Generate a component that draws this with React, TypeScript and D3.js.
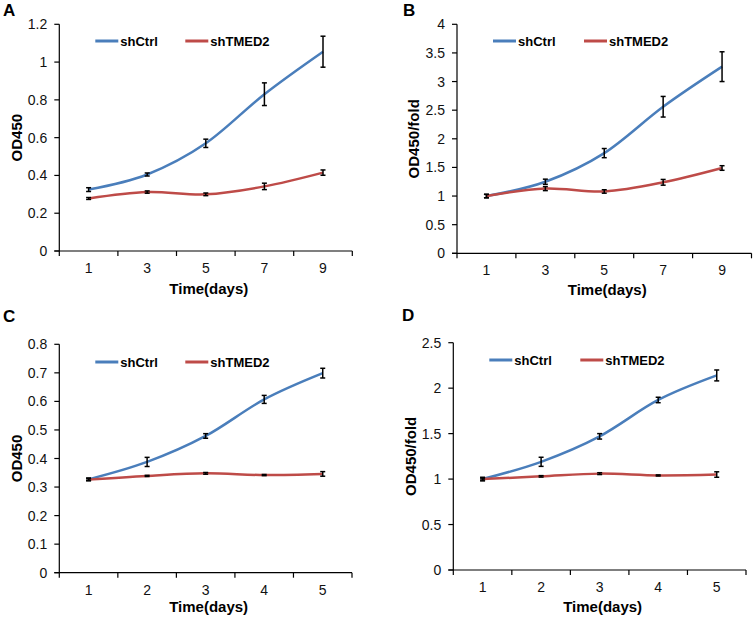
import React from "react";
import * as d3 from "d3";

// ---------- data ----------
const daysAB = ["1", "3", "5", "7", "9"];
const daysCD = ["1", "2", "3", "4", "5"];
const seriesNames = ["shCtrl", "shTMED2"];

const aCtrl = [0.325, 0.405, 0.57, 0.83, 1.055];
const aCtrlErr = [0.01, 0.008, 0.022, 0.06, 0.082];
const aTmed = [0.278, 0.312, 0.3, 0.342, 0.415];
const aTmedErr = [0.005, 0.006, 0.007, 0.017, 0.014];

const bCtrl = [1.0, 1.25, 1.75, 2.56, 3.26];
const bCtrlErr = [0.03, 0.045, 0.08, 0.18, 0.26];
const bTmed = [1.0, 1.13, 1.08, 1.24, 1.49];
const bTmedErr = [0.03, 0.035, 0.03, 0.05, 0.04];

const cCtrl = [0.327, 0.388, 0.479, 0.607, 0.699];
const cCtrlErr = [0.005, 0.016, 0.008, 0.014, 0.017];
const cTmed = [0.326, 0.339, 0.348, 0.342, 0.346];
const cTmedErr = [0.003, 0.002, 0.003, 0.002, 0.008];

const dCtrl = [1.0, 1.19, 1.47, 1.87, 2.14];
const dCtrlErr = [0.02, 0.05, 0.03, 0.03, 0.06];
const dTmed = [1.0, 1.03, 1.06, 1.04, 1.05];
const dTmedErr = [0.01, 0.008, 0.01, 0.006, 0.03];

const ticksA = [0, 0.2, 0.4, 0.6, 0.8, 1, 1.2];
const ticksB = [0, 0.5, 1, 1.5, 2, 2.5, 3, 3.5, 4];
const ticksC = [0, 0.1, 0.2, 0.3, 0.4, 0.5, 0.6, 0.7, 0.8];
const ticksD = [0, 0.5, 1, 1.5, 2, 2.5];

const COLORS = ["#4a7ebb", "#be4b48"];
const FONT = "'Liberation Sans', Arial, sans-serif";

type PanelProps = {
  letter: string;
  letterX: number;
  letterY: number;
  cats: string[];
  ctrl: number[];
  ctrlErr: number[];
  tmed: number[];
  tmedErr: number[];
  yTicks: number[];
  yLabel: string;
  left: number;
  right: number;
  top: number;
  bottom: number;
  yLabelX: number;
  xLabelY: number;
  legendY: number;
  legendRed: number;
};

function Panel(p: PanelProps) {
  const x = d3.scaleBand<string>().domain(p.cats).range([p.left, p.right]).padding(0);
  const yMax = p.yTicks[p.yTicks.length - 1];
  const y = d3.scaleLinear().domain([0, yMax]).range([p.bottom, p.top]);
  const bw = x.bandwidth();
  const cx = (c: string) => (x(c) as number) + bw / 2;
  const line = d3
    .line<[string, number]>()
    .x((d) => cx(d[0]))
    .y((d) => y(d[1]))
    .curve(d3.curveCardinal.tension(0));

  const series = [
    { vals: p.ctrl, errs: p.ctrlErr, color: COLORS[0] },
    { vals: p.tmed, errs: p.tmedErr, color: COLORS[1] },
  ];
  const boundaries = d3.range(p.cats.length + 1).map((i) => p.left + i * bw);
  const fmt = (v: number) => String(Math.round(v * 10) / 10);
  const legendX = [p.left + 36, p.left + p.legendRed];

  return (
    <g>
      <text x={p.letterX} y={p.letterY} fontFamily={FONT} fontWeight="bold" fontSize={17} fill="#000">
        {p.letter}
      </text>
      {/* axes */}
      <line x1={p.left} x2={p.left} y1={p.top} y2={p.bottom} stroke="#000" strokeWidth={1.2} />
      <line x1={p.left - 5} x2={p.right} y1={p.bottom} y2={p.bottom} stroke="#000" strokeWidth={1.2} />
      {p.yTicks.map((t) => (
        <g key={"yt" + t}>
          <line x1={p.left - 5} x2={p.left} y1={y(t)} y2={y(t)} stroke="#000" strokeWidth={1.2} />
          <text
            x={p.left - 12}
            y={y(t)}
            dy="0.36em"
            textAnchor="end"
            fontFamily={FONT}
            fontSize={14}
            fill="#111"
          >
            {fmt(t)}
          </text>
        </g>
      ))}
      {boundaries.map((bx, i) => (
        <line key={"xt" + i} x1={bx} x2={bx} y1={p.bottom} y2={p.bottom + 5} stroke="#000" strokeWidth={1.2} />
      ))}
      {p.cats.map((c) => (
        <text
          key={"xl" + c}
          x={cx(c)}
          y={p.bottom + 22}
          textAnchor="middle"
          fontFamily={FONT}
          fontSize={14}
          fill="#111"
        >
          {c}
        </text>
      ))}
      <text
        x={(p.left + p.right) / 2 + 3}
        y={p.xLabelY}
        textAnchor="middle"
        fontFamily={FONT}
        fontWeight="bold"
        fontSize={15}
        fill="#000"
      >
        Time(days)
      </text>
      <text
        transform={`translate(${p.yLabelX},${(p.top + p.bottom) / 2}) rotate(-90)`}
        textAnchor="middle"
        fontFamily={FONT}
        fontWeight="bold"
        fontSize={15}
        fill="#000"
      >
        {p.yLabel}
      </text>
      {/* legend */}
      {seriesNames.map((n, i) => (
        <g key={"lg" + n}>
          <line
            x1={legendX[i]}
            x2={legendX[i] + 23}
            y1={p.legendY}
            y2={p.legendY}
            stroke={COLORS[i]}
            strokeWidth={3}
          />
          <text
            x={legendX[i] + 25}
            y={p.legendY + 4.5}
            fontFamily={FONT}
            fontWeight="bold"
            fontSize={13}
            fill="#000"
          >
            {n}
          </text>
        </g>
      ))}
      {/* lines */}
      {series.map((s, i) => (
        <path
          key={"ln" + i}
          d={line(p.cats.map((c, j) => [c, s.vals[j]] as [string, number])) || ""}
          fill="none"
          stroke={s.color}
          strokeWidth={2.5}
        />
      ))}
      {/* error bars */}
      {series.map((s, i) =>
        p.cats.map((c, j) => {
          const xx = cx(c);
          const y1 = y(s.vals[j] + s.errs[j]);
          const y2 = y(s.vals[j] - s.errs[j]);
          return (
            <g key={"eb" + i + "-" + j} stroke="#000" strokeWidth={1.5}>
              <line x1={xx} x2={xx} y1={y1} y2={y2} />
              <line x1={xx - 2.5} x2={xx + 2.5} y1={y1} y2={y1} />
              <line x1={xx - 2.5} x2={xx + 2.5} y1={y2} y2={y2} />
            </g>
          );
        })
      )}
    </g>
  );
}

export default function App() {
  return (
    <svg
      width={753}
      height={619}
      style={{ position: "absolute", left: 0, top: 0, background: "#fff" }}
    >
      <rect width={753} height={619} fill="#fff" />
      <Panel
        letter="A" letterX={3} letterY={16}
        cats={daysAB} ctrl={aCtrl} ctrlErr={aCtrlErr} tmed={aTmed} tmedErr={aTmedErr}
        yTicks={ticksA} yLabel="OD450"
        left={59.3} right={352.3} top={24.3} bottom={251}
        yLabelX={21.5} xLabelY={294} legendY={41} legendRed={126}
      />
      <Panel
        letter="B" letterX={403} letterY={16}
        cats={daysAB} ctrl={bCtrl} ctrlErr={bCtrlErr} tmed={bTmed} tmedErr={bTmedErr}
        yTicks={ticksB} yLabel="OD450/fold"
        left={457} right={751.5} top={24.3} bottom={253.3}
        yLabelX={419} xLabelY={295} legendY={41} legendRed={127}
      />
      <Panel
        letter="C" letterX={3} letterY={322}
        cats={daysCD} ctrl={cCtrl} ctrlErr={cCtrlErr} tmed={cTmed} tmedErr={cTmedErr}
        yTicks={ticksC} yLabel="OD450"
        left={59.3} right={352} top={344.3} bottom={572.7}
        yLabelX={21.5} xLabelY={612} legendY={362} legendRed={126}
      />
      <Panel
        letter="D" letterX={402} letterY={321}
        cats={daysCD} ctrl={dCtrl} ctrlErr={dCtrlErr} tmed={dTmed} tmedErr={dTmedErr}
        yTicks={ticksD} yLabel="OD450/fold"
        left={453.3} right={746} top={342.7} bottom={570}
        yLabelX={416} xLabelY={612} legendY={360} legendRed={127}
      />
    </svg>
  );
}
